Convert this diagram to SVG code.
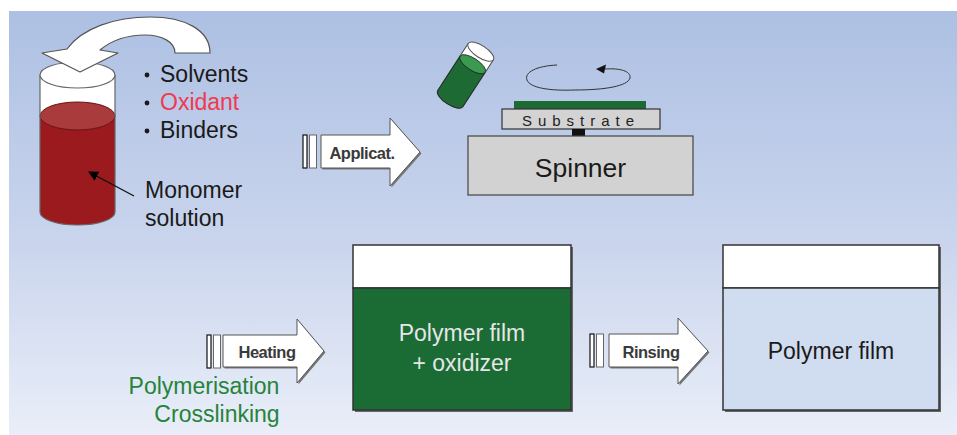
<svg xmlns="http://www.w3.org/2000/svg" width="957" height="435" viewBox="0 0 957 435">
  <defs>
    <linearGradient id="bg" x1="0" y1="11" x2="0" y2="435" gradientUnits="userSpaceOnUse">
      <stop offset="0" stop-color="#adc0e3"/>
      <stop offset="0.55" stop-color="#cad5ed"/>
      <stop offset="1" stop-color="#e9eef8"/>
    </linearGradient>
    <marker id="tip" viewBox="0 0 10 10" refX="9" refY="5" markerWidth="10" markerHeight="10" markerUnits="userSpaceOnUse" orient="auto">
      <path d="M0,0 L10,5 L0,10 Z" fill="#000"/>
    </marker>
  </defs>
  <style>
    text { font-family: "Liberation Sans", Arial, Helvetica, sans-serif; }
    .lbl { font-size: 23px; fill: #1a1a1a; }
    .green { font-size: 23px; fill: #26833b; }
    .step { font-size: 16.5px; font-weight: bold; fill: #3a3a3a; letter-spacing: -0.5px; }
    .arrow { fill: #fff; stroke: #555; stroke-width: 1; }
    .arrowShadow { fill: #777; }
    .barA { fill: #fff; stroke: #111; stroke-width: 1.2; }
    .barB { fill: #fff; stroke: #666; stroke-width: 1; }
    .box { stroke: #333; stroke-width: 1.5; }
    .boxShadow { fill: #666; }
  </style>

  <!-- backdrop -->
  <rect x="9" y="11" width="948" height="424" fill="url(#bg)"/>

  <!-- beaker holding the monomer solution -->
  <g id="beaker">
    <rect x="40" y="75" width="75" height="41" fill="#fff"/>
    <path d="M40,116 L40,212 A37.5,13 0 0 0 115,212 L115,116 Z" fill="#9a1a1d"/>
    <ellipse cx="77.5" cy="116" rx="37.5" ry="14" fill="#a93b3c" stroke="#6b1214" stroke-width="1"/>
    <path d="M40,75 L40,212 A37.5,13 0 0 0 115,212 L115,75" fill="none" stroke="#666" stroke-width="1.2"/>
    <ellipse cx="77.5" cy="75" rx="37.5" ry="13" fill="#fff" stroke="#666" stroke-width="1.2"/>
  </g>

  <!-- curved arrow pouring the additives in -->
  <g id="pour-arrow">
    <path d="M175,53 L210,53 C210,30 185,17 150,17 C115,17 82,28 67,49 L42,53 L80,72 L118,53 L100,50 C112,40 128,35 145,35 C162,35 175,42 175,53 Z" fill="#fff" stroke="#555" stroke-width="1.2" stroke-linejoin="round"/>
  </g>

  <g id="ingredients">
    <circle cx="147" cy="75" r="2.4" fill="#1a1a1a"/>
    <text class="lbl" x="160" y="82">Solvents</text>
    <circle cx="147" cy="103" r="2.4" fill="#1a1a1a"/>
    <text class="lbl" x="160" y="110" style="fill:#ee3a52">Oxidant</text>
    <circle cx="147" cy="131" r="2.4" fill="#1a1a1a"/>
    <text class="lbl" x="160" y="138">Binders</text>
  </g>

  <g id="monomer-label">
    <text class="lbl" x="145" y="198">Monomer</text>
    <text class="lbl" x="145" y="226">solution</text>
  </g>

  <!-- tilted vial of solution -->
  <g id="vial" transform="translate(465,76) rotate(33)">
    <path d="M-15,-14 L-15,27 A15,6 0 0 0 15,27 L15,-14 Z" fill="#1d6a35" stroke="#222" stroke-width="1"/>
    <path d="M-15,-29 L-15,-14 L15,-14 L15,-29 Z" fill="#fff"/>
    <ellipse cx="0" cy="-14" rx="15" ry="6" fill="#3a9a50" stroke="#222" stroke-width="0.8"/>
    <path d="M-15,-29 L-15,-14 M15,-29 L15,-14" stroke="#444" stroke-width="1"/>
    <ellipse cx="0" cy="-29" rx="15" ry="6" fill="#fff" stroke="#555" stroke-width="1"/>
  </g>

  <!-- spin coater -->
  <g id="spinner">
    <path d="M557,65 C537,66 524,72 527,80 C530,88 550,91 575,90 C605,90 628,86 630,78 C631,71 620,68 605,69" fill="none" stroke="#333" stroke-width="1"/>
    <path d="M596,69 L606,64.5 L604,73.5 Z" fill="#111"/>
    <rect x="514" y="101" width="132" height="8" fill="#1d6a35"/>
    <rect x="502" y="109" width="158" height="20" fill="#d3d3d3" stroke="#333" stroke-width="1.2"/>
    <text x="522" y="126" font-size="15" fill="#222" textLength="112" lengthAdjust="spacing">Substrate</text>
    <rect x="572" y="129" width="13" height="8" fill="#111"/>
    <rect x="468" y="136" width="225" height="59" fill="#d2d2d2" stroke="#444" stroke-width="1.2"/>
    <text x="580.5" y="177" font-size="26.5" fill="#1a1a1a" text-anchor="middle">Spinner</text>
  </g>

  <!-- process step arrows -->
  <g id="connectors">
    <g id="step-applicat">
      <rect class="barA" x="303" y="135" width="4" height="33"/>
      <rect class="barB" x="309.5" y="135" width="7" height="33"/>
      <path class="arrowShadow" d="M322.5,136.5 L391.5,136.5 L391.5,119.5 L421.5,153.5 L391.5,187.5 L391.5,169.5 L322.5,169.5 Z"/>
      <path class="arrow" d="M321,135 L390,135 L390,118 L420,152 L390,186 L390,168 L321,168 Z"/>
      <text class="step" x="362" y="159" text-anchor="middle">Applicat.</text>
    </g>
    <g id="step-heating">
      <rect class="barA" x="207" y="335" width="4" height="33"/>
      <rect class="barB" x="213.5" y="335" width="7" height="33"/>
      <path class="arrowShadow" d="M224.5,336.5 L298.5,336.5 L298.5,320.5 L325.5,352.5 L298.5,384.5 L298.5,368.5 L224.5,368.5 Z"/>
      <path class="arrow" d="M223,335 L297,335 L297,319 L324,351 L297,383 L297,367 L223,367 Z"/>
      <text class="step" x="267" y="358" text-anchor="middle">Heating</text>
    </g>
    <g id="step-rinsing">
      <rect class="barA" x="590" y="334" width="4" height="33"/>
      <rect class="barB" x="596.5" y="334" width="7" height="33"/>
      <path class="arrowShadow" d="M610.5,335.5 L679.5,335.5 L679.5,319.5 L709.5,352.5 L679.5,385.5 L679.5,368.5 L610.5,368.5 Z"/>
      <path class="arrow" d="M609,334 L678,334 L678,318 L708,351 L678,384 L678,367 L609,367 Z"/>
      <text class="step" x="651" y="358" text-anchor="middle">Rinsing</text>
    </g>
    <g id="pointer">
      <line x1="134" y1="196" x2="89" y2="172" stroke="#111" stroke-width="1.3" marker-end="url(#tip)"/>
    </g>
  </g>

  <g id="heating-note">
    <text class="green" x="204" y="394" text-anchor="middle">Polymerisation</text>
    <text class="green" x="217" y="422" text-anchor="middle">Crosslinking</text>
  </g>

  <!-- film with oxidizer after heating -->
  <g id="film-oxidizer">
    <rect class="boxShadow" x="355" y="247" width="218" height="165"/>
    <rect x="353" y="245" width="218" height="43" fill="#fff" class="box"/>
    <rect x="353" y="288" width="218" height="122" fill="#1b6b35" class="box"/>
    <text x="462" y="341" font-size="23" fill="#e6e6e6" text-anchor="middle">Polymer film</text>
    <text x="462" y="371" font-size="23" fill="#e6e6e6" text-anchor="middle">+ oxidizer</text>
  </g>

  <!-- final polymer film after rinsing -->
  <g id="film-final">
    <rect class="boxShadow" x="725" y="247" width="216" height="165"/>
    <rect x="723" y="245" width="216" height="43" fill="#fff" class="box"/>
    <rect x="723" y="288" width="216" height="122" fill="#d0dcf0" class="box"/>
    <text x="831" y="359" font-size="23" fill="#1a1a1a" text-anchor="middle">Polymer film</text>
  </g>
</svg>
